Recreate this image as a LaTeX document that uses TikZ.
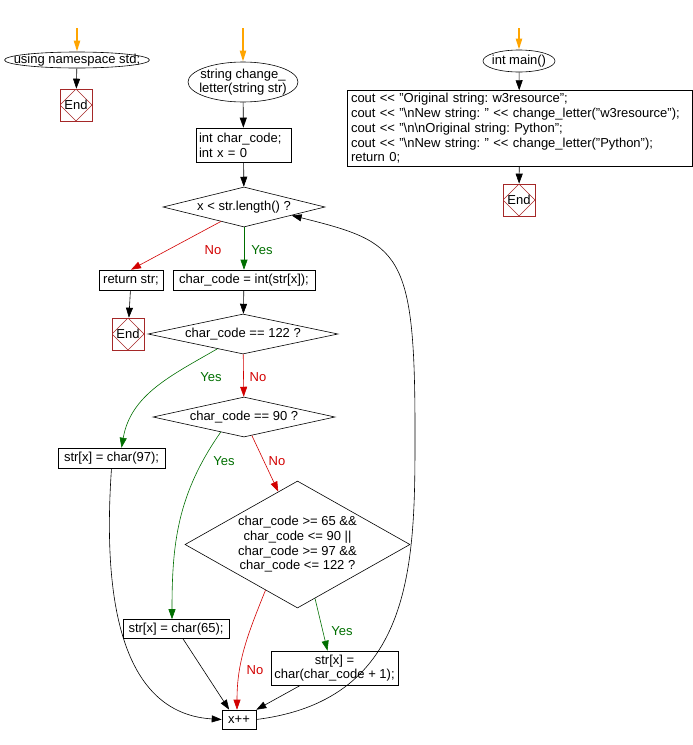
\documentclass[tikz,border=0pt]{standalone}
\usepackage{fontspec}
\setmainfont{Liberation Sans}
\usetikzlibrary{arrows.meta, shapes.geometric}
\definecolor{flowred}{RGB}{210,0,0}
\definecolor{flowgreen}{RGB}{0,110,0}
\definecolor{floworange}{RGB}{255,165,0}
\definecolor{endred}{RGB}{165,40,40}
\newcommand{\shl}{<\kern0pt<}
\frenchspacing

\begin{document}
\begin{tikzpicture}[x=1pt, y=1pt, line width=0.6pt,
    >={Triangle[length=10pt, width=7pt]},
    font=\fontsize{13pt}{14.7pt}\selectfont,
    box/.style={draw, rectangle, minimum height=20pt, inner sep=3pt},
    cond/.style={draw, diamond, inner sep=0pt, align=center},
    oval/.style={draw, ellipse, inner sep=0pt},
    endbox/.style={draw=endred, rectangle, minimum size=32pt, inner sep=0pt,
      path picture={\draw[endred, line width=0.5pt]
        (path picture bounding box.north) -- (path picture bounding box.east) --
        (path picture bounding box.south) -- (path picture bounding box.west) -- cycle;}},
    entry/.style={->, color=floworange, line width=2pt,
      >={Triangle[length=11pt, width=6pt]}},
    yes/.style={text=flowgreen}, no/.style={text=flowred}]
    \useasboundingbox (0,0) rectangle (693,-745);

    % left column: namespace
    \coordinate (s0) at (77,-28);
    \node[oval, minimum width=145pt, minimum height=16pt,
      label=center:{using namespace std;}] (ns) at (77,-60) {};
    \node[endbox] (end1) at (76,-105) {End};

    % middle column: change_letter
    \coordinate (s1) at (243,-28);
    \node[oval, minimum width=110pt, minimum height=40pt,
      label={[align=center]center:string change\_\\letter(string str)}] (fn) at (243,-82) {};
    \node[box, text width=89pt, align=left, minimum height=34pt] (init) at (243.5,-145)
      {int char\_code;\\int x = 0};
    \node[cond, aspect=4, minimum width=162pt, minimum height=40pt] (d1) at (244,-207)
      {x < str.length() ?};
    \node[box, minimum width=64pt] (ret) at (131,-280) {return str;};
    \node[endbox] (end2) at (128,-334) {End};
    \node[box, minimum width=142pt] (chr) at (244,-280) {char\_code = int(str[x]);};
    \node[cond, aspect=4.7, minimum width=190pt, minimum height=40pt] (d122) at (243,-334)
      {char\_code == 122 ?};
    \node[cond, aspect=4.5, minimum width=182pt, minimum height=40pt] (d90) at (244,-417)
      {char\_code == 90 ?};
    \node[box, minimum width=107pt] (b97) at (111.5,-458) {str[x] = char(97);};
    \node[cond, aspect=1.77, minimum width=225pt, minimum height=127pt] (big) at (297.5,-544.5)
      {char\_code >= 65 \&\&\\char\_code <= 90 ||\\char\_code >= 97 \&\&\\char\_code <= 122 ?};
    \node[box, minimum width=106pt, minimum height=19pt] (b65) at (176,-629) {str[x] = char(65);};
    \node[box, align=center, inner xsep=1pt, minimum width=127pt, minimum height=34pt] (inc)
      at (334.5,-668) {str[x] =\\char(char\_code + 1);};
    \node[box, minimum width=34pt, minimum height=19pt] (xpp) at (239,-719.5) {x++};
    \coordinate (bend) at (415,-430);

    % right column: main
    \coordinate (s2) at (519,-28);
    \node[oval, minimum width=72pt, minimum height=22pt,
      label=center:{int main()}] (main) at (519,-61) {};
    \node[box, text width=337pt, align=left, inner xsep=4pt] (body) at (519.5,-128.5)
      {cout \shl{} "Original string: w3resource";\\
       cout \shl{} "\textbackslash nNew string: " \shl{} change\_letter("w3resource");\\
       cout \shl{} "\textbackslash n\textbackslash nOriginal string: Python";\\
       cout \shl{} "\textbackslash nNew string: " \shl{} change\_letter("Python");\\
       return 0;};
    \node[endbox] (end3) at (519,-200) {End};

    % branch labels
    \node[no]  (n1) at (213,-250) {No};
    \node[yes] (y1) at (262,-250) {Yes};
    \node[yes] (y2) at (211,-377) {Yes};
    \node[no]  (n2) at (258,-377) {No};
    \node[yes] (y3) at (224,-461) {Yes};
    \node[no]  (n3) at (277,-461) {No};
    \node[yes] (y4) at (342,-631) {Yes};
    \node[no]  (n4) at (255,-670) {No};

    % entry arrows
    \path[entry] (s0) edge (ns) (s1) edge (fn) (s2) edge (main);

    % plain flow
    \path[->] (ns) edge (end1)
              (fn) edge (init)
              (init) edge (d1)
              (ret) edge (end2)
              (chr) edge (d122)
              (main) edge (body)
              (body) edge (end3)
              ([xshift=7pt]b65.south) edge (xpp.135)
              ([xshift=-34pt]inc.south) edge (xpp.north east);
    \draw[->] (b97.south) .. controls +(-12,-172) and +(-82,5) .. (xpp.west);
    \draw[->] (xpp.east) .. controls +(160,20) and +(0,-130) .. (bend)
              .. controls +(0,180) and +(108,-27) .. (d1.350);

    % yes branches
    \path[->, color=flowgreen] (d1) edge (chr)
              (d122.210) edge[out=210, in=80] ([xshift=10pt]b97.north)
              (d90.213) edge[out=235, in=90] ([xshift=-4pt]b65.north)
              (big.288) edge ([xshift=-7pt]inc.north);

    % no branches
    \path[->, color=flowred] (d1.212) edge (ret.north)
              (d122) edge (d90)
              (d90.293) edge (big.110)
              (big.235) edge[out=248, in=90] ([xshift=-2pt]xpp.north);
\end{tikzpicture}
\end{document}
